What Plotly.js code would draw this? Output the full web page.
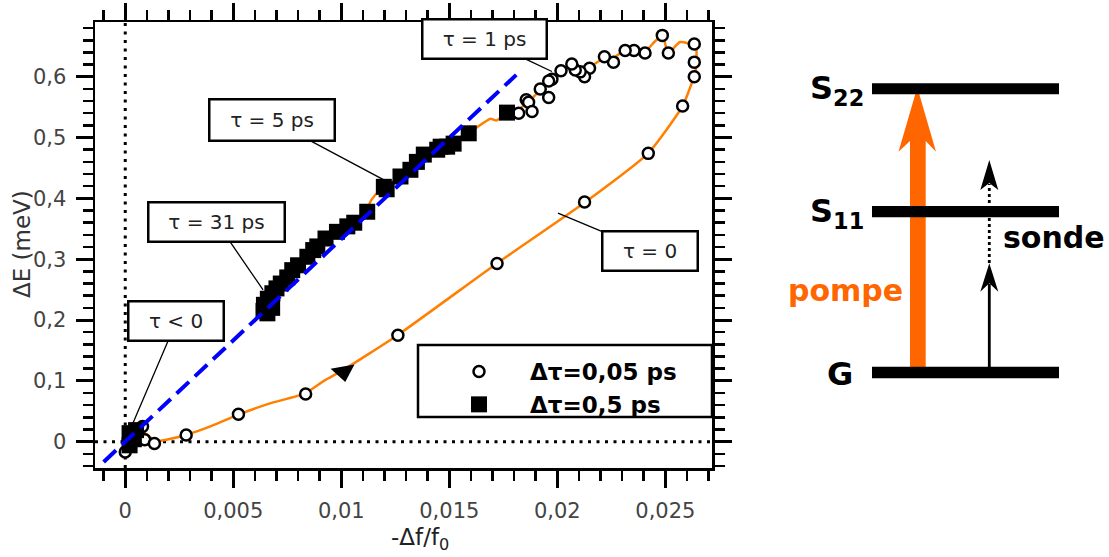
<!DOCTYPE html>
<html>
<head>
<meta charset="utf-8">
<script src="https://cdn.plot.ly/plotly-3.0.1.min.js"></script>
<style>html,body{margin:0;padding:0;background:#fff;}#chart{width:1109px;height:557px;}</style>
</head>
<body>
<div id="chart"></div>
<script>
// ---------------- data ----------------
// Δτ = 0,05 ps (open circles)
const circX = [0.0000, 0.0002, 0.0005, 0.0008, 0.0009, 0.00135, 0.00282,
  0.00524, 0.00835, 0.01262, 0.01721, 0.02126, 0.02421, 0.0258, 0.02634, 0.02634, 0.02634,
  0.02514, 0.02486, 0.02406, 0.02355, 0.02314, 0.0226, 0.02218, 0.02149, 0.02126, 0.02106,
  0.02083, 0.02067, 0.02017, 0.01975, 0.0196, 0.01921, 0.0196, 0.01856, 0.01867, 0.01883, 0.01821];
const circY = [-0.017, -0.008, 0.018, 0.025, 0.003, -0.003, 0.011,
  0.045, 0.0785, 0.175, 0.293, 0.394, 0.474, 0.552, 0.600, 0.624, 0.654,
  0.639, 0.668, 0.639, 0.643, 0.643, 0.624, 0.633, 0.614, 0.600, 0.608,
  0.611, 0.621, 0.610, 0.596, 0.593, 0.580, 0.566, 0.562, 0.558, 0.543, 0.540];

// Δτ = 0,5 ps (filled squares)
const sqX = [0.0002, 0.0004, 0.0002, 0.0005,
  0.00658, 0.00642, 0.0064, 0.0068, 0.0066, 0.00681, 0.0070, 0.0072, 0.0075, 0.00773, 0.0080,
  0.00843, 0.0087, 0.00889, 0.00927, 0.0098, 0.01028, 0.0106, 0.0112, 0.01197, 0.0121,
  0.01274, 0.0132, 0.0135, 0.01382, 0.01444, 0.0146, 0.0149, 0.0152, 0.0159, 0.01767];
const sqY = [0.014, 0.004, -0.006, 0.019,
  0.211, 0.225, 0.215, 0.220, 0.235, 0.244, 0.252, 0.260, 0.270, 0.282, 0.290,
  0.304, 0.315, 0.321, 0.334, 0.345, 0.354, 0.360, 0.378, 0.419, 0.415,
  0.436, 0.447, 0.460, 0.472, 0.480, 0.485, 0.485, 0.490, 0.507, 0.541];

// smoothed guide curve (orange)
const curveX = [-0.0001, 0.0002, 0.0006, 0.0010, 0.0014, 0.0020, 0.0028, 0.0040, 0.0052, 0.0067,
  0.0083, 0.0092, 0.0101, 0.0126, 0.0172, 0.0213, 0.0242, 0.0258, 0.0264, 0.0264,
  0.02568, 0.02514, 0.02486, 0.02443, 0.02406, 0.02355, 0.02314, 0.02258, 0.02216, 0.02152,
  0.02106, 0.02064, 0.02014, 0.01958, 0.01921, 0.01875, 0.01819, 0.01768, 0.01718, 0.0169,
  0.01625, 0.01588, 0.01482, 0.01366, 0.01265, 0.01182, 0.0114, 0.01112, 0.01025, 0.00928,
  0.0084, 0.00766, 0.00696, 0.0065];
const curveY = [-0.010, 0.008, 0.020, 0.012, 0.001, 0.004, 0.011, 0.026, 0.044, 0.063,
  0.079, 0.100, 0.118, 0.175, 0.293, 0.394, 0.474, 0.552, 0.610, 0.650,
  0.657, 0.639, 0.668, 0.655, 0.641, 0.644, 0.644, 0.631, 0.631, 0.616,
  0.611, 0.615, 0.606, 0.592, 0.578, 0.562, 0.546, 0.541, 0.528, 0.531,
  0.516, 0.508, 0.487, 0.467, 0.434, 0.414, 0.398, 0.378, 0.355, 0.335,
  0.305, 0.283, 0.249, 0.220];

// linear fit (blue dashed)
const fitX = [-0.001, 0.0181];
const fitY = [-0.0333, 0.603];

// direction arrow on the curve
const dirX = [0.0101];
const dirY = [0.115];

// tick labels
const xTickVals = [0, 0.005, 0.01, 0.015, 0.02, 0.025];
const xTickText = ['0', '0,005', '0,01', '0,015', '0,02', '0,025'];
const yTickVals = [0, 0.1, 0.2, 0.3, 0.4, 0.5, 0.6];
const yTickText = ['0', '0,1', '0,2', '0,3', '0,4', '0,5', '0,6'];

// axis titles
const xTitle = '-Δf/f<sub>0</sub>';
const yTitle = 'ΔE (meV)';

// callouts: text and the data point each one points to
const calloutText = ['τ = 1 ps', 'τ = 5 ps', 'τ = 31 ps', 'τ &lt; 0', 'τ = 0'];
const calloutX = [0.01975, 0.01197, 0.00638, 0.00026, 0.02003];
const calloutY = [0.6086, 0.4304, 0.2495, 0.0225, 0.3757];

const legendNames = ['<b>Δτ=0,05 ps</b>', '<b>Δτ=0,5 ps</b>'];

// ---------------- layout geometry ----------------
const W = 1109, H = 557;
const mL = 95, mR = 0, mT = 22, mB = 89;
const plotW = W - mL - mR, plotH = H - mT - mB;
const mainRight = 617 / plotW;
const d2Start = 0.62;
const x2px0 = mL + d2Start * plotW;

const FONT = 'DejaVu Sans';

const traces = [
  {x: curveX, y: curveY, type: 'scatter', mode: 'lines', line: {color: '#ff8000', width: 2.5, shape: 'spline', smoothing: 0.5},
   showlegend: false, hoverinfo: 'skip'},
  {x: circX, y: circY, type: 'scatter', mode: 'markers', name: legendNames[0],
   marker: {symbol: 'circle', size: 11, color: '#ffffff', line: {color: '#000', width: 2.5}}},
  {x: sqX, y: sqY, type: 'scatter', mode: 'markers', name: legendNames[1],
   marker: {symbol: 'square', size: 16, color: '#000', line: {width: 0}}},
  {x: fitX, y: fitY, type: 'scatter', mode: 'lines', line: {color: '#0000ff', width: 4, dash: '17px,8px'},
   showlegend: false, hoverinfo: 'skip'},
  {x: dirX, y: dirY, type: 'scatter', mode: 'markers', showlegend: false, hoverinfo: 'skip',
   marker: {symbol: 'triangle-down', size: 21, color: '#000', angle: -10}}
];

const axisCommon = {
  showline: true, linecolor: '#000', linewidth: 2.5, mirror: 'allticks',
  ticks: 'outside', ticklen: 17, tickwidth: 3, tickcolor: '#000',
  showgrid: false, zeroline: false, ticklabelstandoff: 5,
  tickfont: {family: FONT, size: 21, color: '#444'}
};

const layout = {
  width: W, height: H,
  margin: {l: mL, r: mR, t: mT, b: mB, pad: 0},
  paper_bgcolor: '#fff', plot_bgcolor: '#fff',
  separators: ', ',
  font: {family: FONT, color: '#222'},
  xaxis: Object.assign({}, axisCommon, {
    domain: [0, mainRight], range: [-0.0014, 0.02716],
    tickmode: 'array', tickvals: xTickVals, ticktext: xTickText,
    minor: {dtick: 0.001, tick0: 0, ticks: 'outside', ticklen: 10, tickwidth: 2.5, tickcolor: '#000', showgrid: false}
  }),
  yaxis: Object.assign({}, axisCommon, {
    domain: [0, 1], range: [-0.0433, 0.690], anchor: 'x',
    tickmode: 'array', tickvals: yTickVals, ticktext: yTickText,
    minor: {dtick: 0.02, tick0: 0, ticks: 'outside', ticklen: 10, tickwidth: 2.5, tickcolor: '#000', showgrid: false}
  }),
  xaxis2: {domain: [d2Start, 1], range: [x2px0, W], visible: false, fixedrange: true, anchor: 'y2'},
  yaxis2: {domain: [0, 1], range: [mT + plotH, mT], visible: false, fixedrange: true, anchor: 'x2'},
  showlegend: true,
  legend: {
    x: (428 - mL) / plotW, y: (mT + plotH - 350) / plotH, xanchor: 'left', yanchor: 'top',
    bgcolor: 'rgba(0,0,0,0)', borderwidth: 0, itemwidth: 92, tracegroupgap: 0,
    font: {family: FONT, size: 23, color: '#000'}
  },
  shapes: [],
  annotations: []
};

// axis titles placed as paper annotations
layout.annotations.push({text: xTitle, xref: 'paper', yref: 'paper', x: (420 - mL) / plotW, y: (mT + plotH - 539) / plotH,
  xanchor: 'center', yanchor: 'middle', showarrow: false, font: {family: FONT, size: 23, color: '#222'}});
layout.annotations.push({text: yTitle, xref: 'paper', yref: 'paper', x: (22 - mL) / plotW, y: (mT + plotH - 244) / plotH,
  xanchor: 'center', yanchor: 'middle', textangle: -90, showarrow: false, font: {family: FONT, size: 23, color: '#333'}});

// zero reference lines (dotted)
layout.shapes.push({type: 'line', xref: 'x', yref: 'paper', x0: 0, x1: 0, y0: 0, y1: 1, layer: 'below',
  line: {color: '#000', width: 3, dash: '3px,5.5px'}});
layout.shapes.push({type: 'line', xref: 'paper', yref: 'y', x0: 0, x1: mainRight, y0: 0, y1: 0, layer: 'below',
  line: {color: '#000', width: 3, dash: '3px,5.5px'}});

// legend frame
layout.shapes.push({type: 'rect', xref: 'paper', yref: 'paper',
  x0: (418 - mL) / plotW, x1: (712 - mL) / plotW,
  y0: (mT + plotH - 417) / plotH, y1: (mT + plotH - 345) / plotH,
  line: {color: '#000', width: 2.5}, fillcolor: 'rgba(0,0,0,0)'});

// callout boxes (offsets in px from the pointed data point, box size in px)
const calloutBox = [
  {ax: -67.7, ay: -32.2, w: 126, h: 41},
  {ax: -111.8, ay: -59.5, w: 127, h: 43},
  {ax: -46.3, ay: -67.5, w: 138, h: 41},
  {ax: 45.5, ay: -106.5, w: 97, h: 41},
  {ax: 91.8, ay: 38.2, w: 97, h: 41}
];
calloutText.forEach((t, i) => {
  const b = calloutBox[i];
  layout.annotations.push({
    text: t, x: calloutX[i], y: calloutY[i], xref: 'x', yref: 'y',
    showarrow: true, arrowhead: 0, arrowwidth: 1.3, arrowcolor: '#000', standoff: 0,
    ax: b.ax, ay: b.ay, width: b.w - 4, height: b.h - 4, borderpad: 0,
    bordercolor: '#000', borderwidth: 2.5, bgcolor: '#fff',
    font: {family: FONT, size: 20, color: '#222'}
  });
});

// ---------------- energy level diagram (pixel units on x2/y2) ----------------
const orange = '#ff6600';
// pump arrow (shaft + barbed head)
layout.shapes.push({type: 'path', xref: 'x2', yref: 'y2', fillcolor: orange, line: {width: 0},
  path: 'M 917.3 87.3 L 936 151.7 L 925.7 141 L 925.7 367 L 910 367 L 910 141 L 898.5 151.7 Z'});
// levels
[[83.3, 94.3], [206, 217.3], [366.7, 378.3]].forEach(l => {
  layout.shapes.push({type: 'rect', xref: 'x2', yref: 'y2', x0: 872, x1: 1059, y0: l[0], y1: l[1],
    fillcolor: '#000', line: {width: 0}});
});
// probe arrow: solid part
layout.shapes.push({type: 'line', xref: 'x2', yref: 'y2', x0: 989.3, x1: 989.3, y0: 367, y1: 284,
  line: {color: '#000', width: 2.8}});
layout.shapes.push({type: 'path', xref: 'x2', yref: 'y2', fillcolor: '#000', line: {width: 0},
  path: 'M 989.3 263.3 L 998.3 291.7 L 989.3 283.3 L 980.3 291.7 Z'});
// probe arrow: dotted part
layout.shapes.push({type: 'line', xref: 'x2', yref: 'y2', x0: 989.3, x1: 989.3, y0: 263, y1: 184,
  line: {color: '#000', width: 2.8, dash: '3px,3px'}});
layout.shapes.push({type: 'path', xref: 'x2', yref: 'y2', fillcolor: '#000', line: {width: 0},
  path: 'M 989.3 160 L 998.3 190 L 989.3 183 L 980.3 190 Z'});

const diagText = [
  {t: '<b>S<sub>22</sub></b>', x: 866, y: 90, xa: 'right', size: 32, c: '#000'},
  {t: '<b>S<sub>11</sub></b>', x: 866, y: 213, xa: 'right', size: 32, c: '#000'},
  {t: '<b>G</b>', x: 855, y: 374, xa: 'right', size: 32, c: '#000'},
  {t: '<b>pompe</b>', x: 905, y: 290, xa: 'right', size: 30, c: orange},
  {t: '<b>sonde</b>', x: 1001, y: 237, xa: 'left', size: 30, c: '#000'}
];
diagText.forEach(d => {
  layout.annotations.push({text: d.t, x: d.x, y: d.y, xref: 'x2', yref: 'y2', showarrow: false,
    xanchor: d.xa, yanchor: 'middle', font: {family: FONT, size: d.size, color: d.c}});
});

Plotly.newPlot('chart', traces, layout, {displayModeBar: false, staticPlot: true});
</script>
</body>
</html>
